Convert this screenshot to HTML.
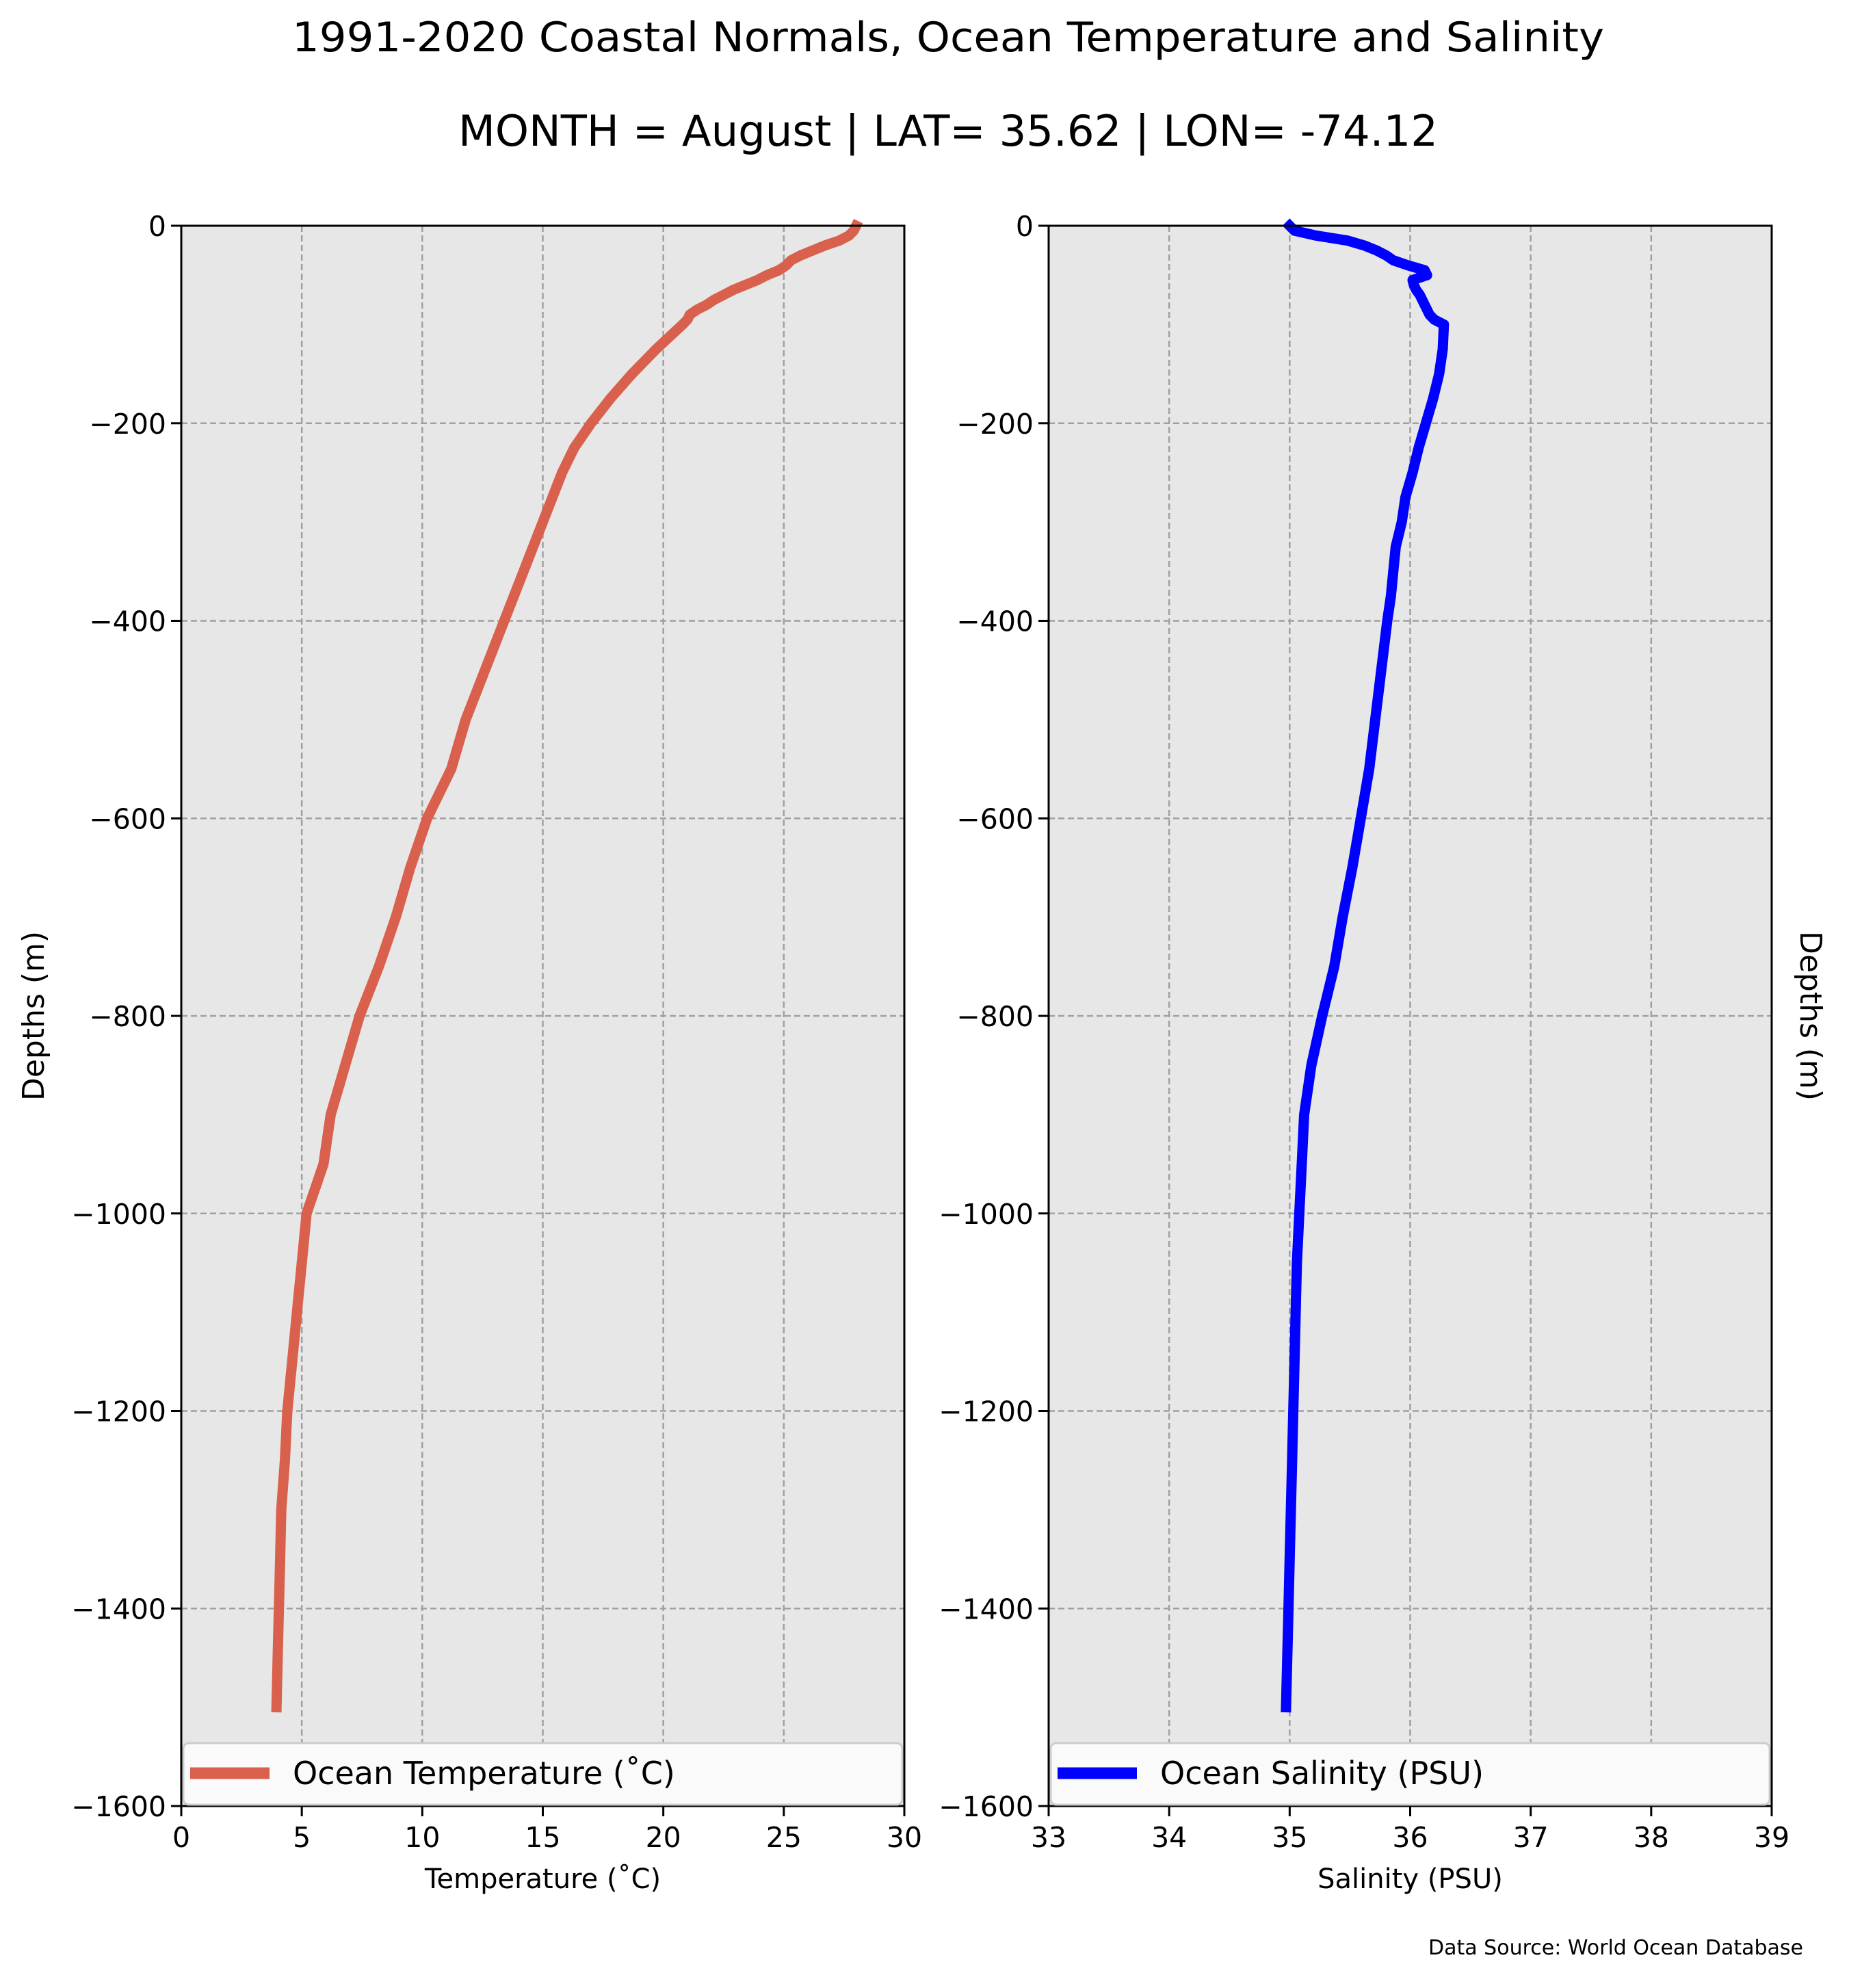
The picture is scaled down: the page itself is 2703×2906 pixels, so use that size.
<!DOCTYPE html>
<html><head><meta charset="utf-8"><style>
html,body{margin:0;padding:0;background:#fff}
svg text{font-family:"DejaVu Sans","Liberation Sans",sans-serif;fill:#000}
</style></head><body>
<svg id="fig" width="2703" height="2901" viewBox="0 0 2703 2901" xmlns="http://www.w3.org/2000/svg">
<text x="1386" y="75" font-size="60" text-anchor="middle" textLength="1918" lengthAdjust="spacingAndGlyphs">1991-2020 Coastal Normals, Ocean Temperature and Salinity</text>
<text x="1386" y="213" font-size="62" text-anchor="middle" textLength="1432" lengthAdjust="spacingAndGlyphs">MONTH = August | LAT= 35.62 | LON= -74.12</text>
<g id="left"></g>
<g id="right"></g>
<text transform="translate(64,1485) rotate(-90)" font-size="44" text-anchor="middle">Depths (m)</text>
<text transform="translate(2632,1485) rotate(90)" font-size="44" text-anchor="middle">Depths (m)</text>
<text x="2636" y="2857" font-size="30" text-anchor="end">Data Source: World Ocean Database</text>
</svg>
<script>
const depths = [0,5,10,15,20,25,30,35,40,45,50,55,60,65,70,75,80,85,90,95,100,125,150,175,200,225,250,275,300,325,350,375,400,450,500,550,600,650,700,750,800,850,900,950,1000,1050,1100,1150,1200,1250,1300,1350,1400,1450,1500];
const temperature = [28.0,27.9,27.7,27.3,26.7,26.2,25.7,25.3,25.1,24.8,24.3,23.9,23.4,22.9,22.5,22.1,21.8,21.4,21.1,21.0,20.8,19.7,18.7,17.8,17.0,16.3,15.8,15.4,15.0,14.6,14.2,13.8,13.4,12.6,11.8,11.2,10.2,9.5,8.9,8.2,7.4,6.8,6.2,5.9,5.2,5.0,4.8,4.6,4.4,4.3,4.15,4.1,4.05,4.0,3.95];
const salinity = [35.0,35.04,35.22,35.48,35.62,35.72,35.8,35.86,35.98,36.12,36.14,36.02,36.03,36.05,36.08,36.1,36.12,36.14,36.16,36.2,36.28,36.27,36.24,36.19,36.13,36.07,36.02,35.96,35.93,35.88,35.86,35.84,35.81,35.76,35.71,35.66,35.59,35.52,35.44,35.37,35.27,35.18,35.12,35.1,35.08,35.06,35.05,35.04,35.03,35.02,35.01,35.0,34.99,34.98,34.97];
const yTicks = [0,-200,-400,-600,-800,-1000,-1200,-1400,-1600];
const tempTicks = [0,5,10,15,20,25,30];
const salTicks = [33,34,35,36,37,38,39];

const NS = 'http://www.w3.org/2000/svg';
const TOP = 330, BOT = 2640;
function yScale(d){ return TOP + (0 - d) / 1600 * (BOT - TOP) * 1; }
function mk(tag, attrs, parent){ const e = document.createElementNS(NS, tag); for (const k in attrs) e.setAttribute(k, attrs[k]); parent.appendChild(e); return e; }

function panel(g, x0, x1, xmin, xmax, xt, vals, color, legendText, xlabel, pfx){
  const xs = v => x0 + (v - xmin) / (xmax - xmin) * (x1 - x0);
  const bg = mk('rect', {x:x0, y:TOP, width:x1-x0, height:BOT-TOP, fill:'#e7e7e7'}, g);
  
  
  xt.forEach(t => {
    const X = xs(t);
    const gl = mk('line', {x1:X, y1:TOP, x2:X, y2:BOT, stroke:'#a0a0a0', 'stroke-width':2.5, 'stroke-dasharray':'9,5'}, g);
    
    
    mk('line', {x1:X, y1:BOT, x2:X, y2:BOT+15, stroke:'#000', 'stroke-width':3}, g);
    const tl = mk('text', {x:X, y:2700, 'font-size':41, 'text-anchor':'middle'}, g);
    tl.textContent = String(t);
    
    
  });
  yTicks.forEach(t => {
    const Y = yScale(t);
    const gl = mk('line', {x1:x0, y1:Y, x2:x1, y2:Y, stroke:'#a0a0a0', 'stroke-width':2.5, 'stroke-dasharray':'9,5'}, g);
    
    
    mk('line', {x1:x0-15, y1:Y, x2:x0, y2:Y, stroke:'#000', 'stroke-width':3}, g);
    const tl = mk('text', {x:x0-22, y:Y+15, 'font-size':41, 'text-anchor':'end'}, g);
    tl.textContent = t < 0 ? '\u2212' + Math.abs(t) : String(t);
    
    
  });
  const pts = depths.map((d,i) => xs(vals[i]).toFixed(1) + ',' + yScale(-d).toFixed(1)).join(' ');
  const ln = mk('polyline', {points:pts, fill:'none', stroke:color, 'stroke-width':15, 'stroke-linejoin':'round', 'stroke-linecap':'square'}, g);
  
  
  const fr = mk('rect', {x:x0, y:TOP, width:x1-x0, height:BOT-TOP, fill:'none', stroke:'#000', 'stroke-width':3}, g);
  
  
  const lg = mk('g', {}, g);
  
  
  mk('rect', {x:x0+3, y:2548, width:x1-x0-6, height:90, rx:8, fill:'#fafafa', stroke:'#cccccc', 'stroke-width':3}, lg);
  mk('line', {x1:x0+13, y1:2592, x2:x0+129, y2:2592, stroke:color, 'stroke-width':17}, lg);
  const lt = mk('text', {x:x0+163, y:2608, 'font-size':46}, lg);
  lt.textContent = legendText;
  const xl = mk('text', {x:(x0+x1)/2, y:2760, 'font-size':40, 'text-anchor':'middle'}, g);
  xl.textContent = xlabel;
  
  
}
panel(document.getElementById('left'), 265, 1322, 0, 30, tempTicks, temperature, '#d9604c', 'Ocean Temperature (\u02DAC)', 'Temperature (\u02DAC)', 'temperature');
panel(document.getElementById('right'), 1533, 2590, 33, 39, salTicks, salinity, '#0000ff', 'Ocean Salinity (PSU)', 'Salinity (PSU)', 'salinity');
</script>
</body></html>
